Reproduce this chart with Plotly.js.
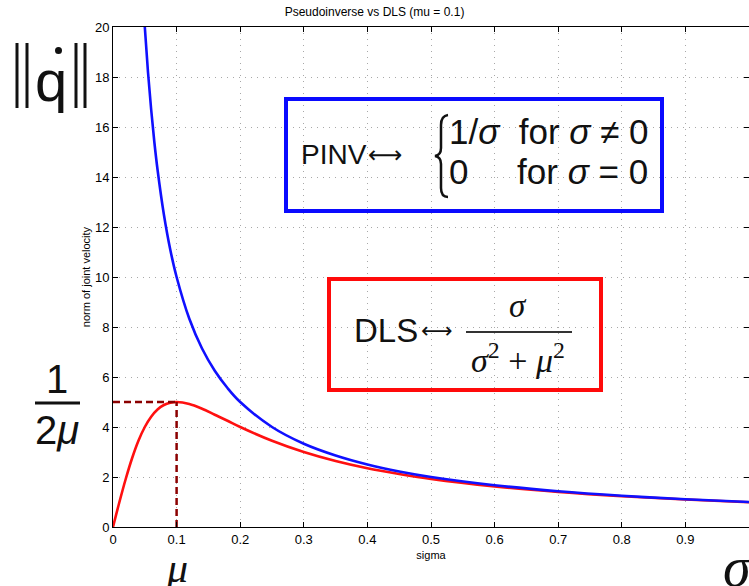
<!DOCTYPE html>
<html><head><meta charset="utf-8">
<script src="https://cdn.plot.ly/plotly-3.0.1.min.js"></script>
<style>body{margin:0;background:#fff}#chart{width:749px;height:586px}</style>
</head><body><div id="chart"></div>
<script>
// Pseudoinverse (1/sigma)
const pinvSigma = [0.05, 0.055, 0.06, 0.065, 0.07, 0.08, 0.09, 0.10, 0.12, 0.14, 0.16, 0.18, 0.20, 0.25, 0.30, 0.35, 0.40, 0.45, 0.50, 0.60, 0.70, 0.80, 0.90, 1.00];
const pinvNorm  = [20.0, 18.2, 16.7, 15.4, 14.3, 12.5, 11.1, 10.0, 8.33, 7.14, 6.25, 5.56, 5.00, 4.00, 3.33, 2.86, 2.50, 2.22, 2.00, 1.67, 1.43, 1.25, 1.11, 1.00];
// Damped least squares
const dlsSigma = [0, 0.01, 0.02, 0.03, 0.04, 0.05, 0.06, 0.07, 0.08, 0.09, 0.10, 0.12, 0.14, 0.16, 0.18, 0.20, 0.25, 0.30, 0.35, 0.40, 0.45, 0.50, 0.60, 0.70, 0.80, 0.90, 1.00];
const dlsNorm  = [0, 0.99, 1.92, 2.75, 3.45, 4.00, 4.41, 4.70, 4.88, 4.97, 5.00, 4.92, 4.73, 4.49, 4.25, 4.00, 3.45, 3.00, 2.64, 2.35, 2.12, 1.92, 1.62, 1.40, 1.23, 1.10, 0.99];
// Peak guide (mu, 1/(2mu))
const peakHX = [0, 0.1], peakHY = [5, 5];
const peakVX = [0.1, 0.1], peakVY = [0, 5];
const xTicks = [0, 0.1, 0.2, 0.3, 0.4, 0.5, 0.6, 0.7, 0.8, 0.9, 1];
const xTickText = ['0','0.1','0.2','0.3','0.4','0.5','0.6','0.7','0.8','0.9','1'];
const yTicks = [0, 2, 4, 6, 8, 10, 12, 14, 16, 18, 20];

const L = 113, T = 27, W = 636, H = 500;
const px = x => (x - L) / W;
const py = y => (T + H - y) / H;

const traces = [
  {x: dlsSigma, y: dlsNorm, mode: 'lines', line: {color: '#ff1010', width: 2.6, shape: 'spline'}, hoverinfo: 'skip'},
  {x: pinvSigma, y: pinvNorm, mode: 'lines', line: {color: '#1010ff', width: 2.6, shape: 'spline'}, hoverinfo: 'skip'},
  {x: peakHX, y: peakHY, mode: 'lines', line: {color: '#8b0000', width: 2.5, dash: '7px,4px'}, hoverinfo: 'skip'},
  {x: peakVX, y: peakVY, mode: 'lines', line: {color: '#8b0000', width: 2.5, dash: '7px,4px'}, hoverinfo: 'skip'}
];

const sans = 'Liberation Sans, Arial, sans-serif';
const serifI = 'Liberation Serif, DejaVu Serif, serif';
function ann(x, y, text, size, family, extra) {
  return Object.assign({xref: 'paper', yref: 'paper', x: px(x), y: py(y), text: text, showarrow: false,
    xanchor: 'center', yanchor: 'middle', font: {size: size, family: family, color: '#111'}}, extra || {});
}

const annotations = [
  ann(51, 80, 'q', 58, sans),
  ann(57, 379, '1', 40, sans),
  ann(57, 430, '2<i>μ</i>', 40, sans),
  ann(177, 568, '<i>μ</i>', 42, serifI),
  ann(738, 567, '<i>σ</i>', 56, serifI),
  // PINV box
  ann(334, 154, 'PINV', 28, sans),
  ann(385, 155, '⟷', 24, 'DejaVu Sans, sans-serif'),
  ann(447, 131, '1/<i>σ</i>  for <i>σ</i> ≠ 0', 35, sans, {xanchor: 'left'}),
  ann(447, 171, '0     for <i>σ</i> = 0', 35, sans, {xanchor: 'left'}),
  // DLS box
  ann(386, 330, 'DLS', 33, sans),
  ann(437, 330, '⟷', 22, 'DejaVu Sans, sans-serif'),
  ann(518, 306, '<i>σ</i>', 33, serifI),
  ann(518, 358, '<i>σ</i><sup>2</sup> + <i>μ</i><sup>2</sup>', 34, serifI)
];

const P = (x, y) => px(x) + ',' + py(y);
const bracePath = 'M' + P(448, 115) + ' Q' + P(441, 116) + ' ' + P(441, 125) + ' L' + P(441, 148) +
  ' Q' + P(441, 155) + ' ' + P(435, 156) + ' Q' + P(441, 157) + ' ' + P(441, 164) +
  ' L' + P(441, 188) + ' Q' + P(441, 197) + ' ' + P(448, 197);

const shapes = [
  {type: 'rect', xref: 'paper', yref: 'paper', x0: px(286), x1: px(662), y0: py(211), y1: py(99), line: {color: '#0a0aff', width: 4}},
  {type: 'rect', xref: 'paper', yref: 'paper', x0: px(329), x1: px(601), y0: py(390), y1: py(279), line: {color: '#ff0a0a', width: 4}},
  {type: 'path', xref: 'paper', yref: 'paper', path: bracePath, line: {color: '#111', width: 2.5}},
  // fraction bars
  {type: 'line', xref: 'paper', yref: 'paper', x0: px(35), x1: px(80), y0: py(403), y1: py(403), line: {color: '#111', width: 3}},
  {type: 'line', xref: 'paper', yref: 'paper', x0: px(466), x1: px(572), y0: py(332), y1: py(332), line: {color: '#333', width: 2}},
  // norm bars and dot of ||q-dot||
  {type: 'line', xref: 'paper', yref: 'paper', x0: px(17), x1: px(17), y0: py(43), y1: py(108), line: {color: '#111', width: 3}},
  {type: 'line', xref: 'paper', yref: 'paper', x0: px(27), x1: px(27), y0: py(43), y1: py(108), line: {color: '#111', width: 3}},
  {type: 'line', xref: 'paper', yref: 'paper', x0: px(76), x1: px(76), y0: py(43), y1: py(108), line: {color: '#111', width: 3}},
  {type: 'line', xref: 'paper', yref: 'paper', x0: px(85), x1: px(85), y0: py(43), y1: py(108), line: {color: '#111', width: 3}},
  {type: 'circle', xref: 'paper', yref: 'paper', x0: px(55), x1: px(62), y0: py(54), y1: py(47), fillcolor: '#111', line: {width: 0}}
];

const axisCommon = {
  showline: true, linecolor: '#000', linewidth: 1, mirror: 'ticks',
  ticks: 'inside', ticklen: 5, tickcolor: '#000', tickwidth: 1,
  showgrid: true, gridcolor: '#a8a8a8', griddash: '1px,5px', gridwidth: 1,
  zeroline: false, tickfont: {family: sans, size: 13, color: '#000'}
};

const layout = {
  width: 749, height: 586,
  margin: {l: L, r: 0, t: T, b: 586 - T - H},
  paper_bgcolor: '#fff', plot_bgcolor: '#fff',
  showlegend: false,
  title: {text: 'Pseudoinverse vs DLS (mu = 0.1)', font: {family: sans, size: 12, color: '#000'}, x: px(431), xanchor: 'center', y: 1 - 12/586, yanchor: 'middle'},
  xaxis: Object.assign({}, axisCommon, {range: [0, 1], tickvals: xTicks, ticktext: xTickText,
    title: {text: 'sigma', font: {family: sans, size: 11, color: '#000'}, standoff: 5}}),
  yaxis: Object.assign({}, axisCommon, {range: [0, 20], tickvals: yTicks,
    title: {text: 'norm of joint velocity', font: {family: sans, size: 11, color: '#000'}, standoff: 2}}),
  annotations: annotations,
  shapes: shapes
};

Plotly.newPlot('chart', traces, layout, {staticPlot: true, displayModeBar: false});
</script>
</body></html>
